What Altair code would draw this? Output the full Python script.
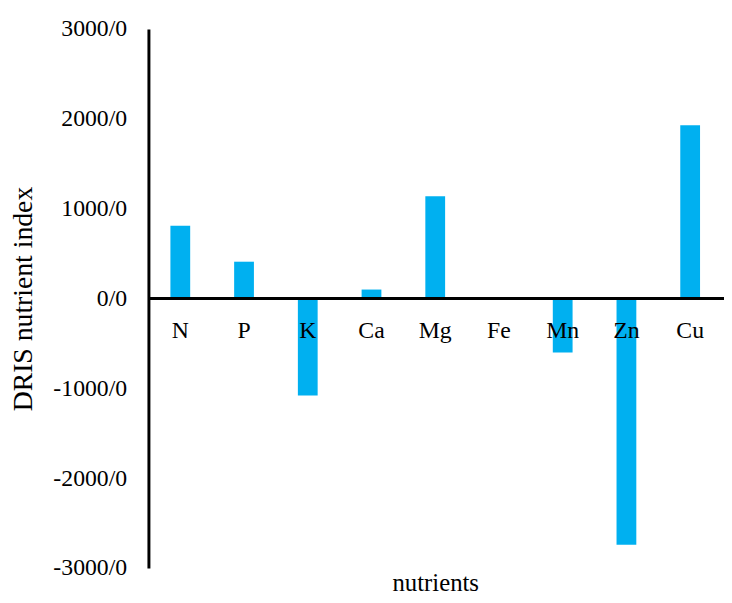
import altair as alt
import pandas as pd

nutrients = ["N", "P", "K", "Ca", "Mg", "Fe", "Mn", "Zn", "Cu"]
dris_index = [810, 410, -1080, 100, 1140, 0, -600, -2740, 1930]
y_ticks = [-3000, -2000, -1000, 0, 1000, 2000, 3000]

df = pd.DataFrame({"nutrient": nutrients, "value": dris_index})

W, H = 580, 545
FONT = "Liberation Serif"
BLUE = "#00B0F0"

x_enc = alt.X(
    "nutrient:N",
    sort=nutrients,
    scale=alt.Scale(paddingInner=0, paddingOuter=0),
    axis=alt.Axis(
        labels=False, ticks=False, domain=False, grid=False,
        title="nutrients", titleFont=FONT, titleFontSize=25,
        titleFontWeight="normal", titleColor="black", titlePadding=3,
    ),
)
y_scale = alt.Scale(domain=[-3000, 3000], nice=False, zero=False)

bars = alt.Chart(df).mark_bar(size=20, color=BLUE).encode(
    x=x_enc,
    y=alt.Y(
        "value:Q",
        scale=y_scale,
        axis=alt.Axis(
            values=y_ticks, labelExpr="datum.value + '/0'",
            labelFont=FONT, labelFontSize=24, labelColor="black",
            labelPadding=22, ticks=False, tickSize=0, grid=False,
            domain=True, domainColor="black", domainWidth=3,
            title="DRIS nutrient index", titleFont=FONT, titleFontSize=28,
            titleFontWeight="normal", titleColor="black", titlePadding=16,
        ),
    ),
)

zero_line = alt.Chart(pd.DataFrame({"v": [0]})).mark_rule(
    color="black", strokeWidth=3
).encode(
    y=alt.Y("v:Q", scale=y_scale),
    x=alt.value(0),
    x2=alt.value(W + 30),
)

labels = alt.Chart(df).mark_text(
    font=FONT, fontSize=24, color="black", baseline="alphabetic", dy=40
).encode(
    x=alt.X("nutrient:N", sort=nutrients),
    y=alt.datum(0),
    text="nutrient:N",
)

chart = alt.layer(bars, zero_line, labels).properties(
    width=W, height=H,
    background="white",
    autosize=alt.AutoSizeParams(type="none"),
    padding={"left": 142, "top": 18, "right": 2, "bottom": 24},
).configure_view(strokeWidth=0, stroke=None)

chart.save("out.html", embed_options={"renderer": "svg", "actions": False})
